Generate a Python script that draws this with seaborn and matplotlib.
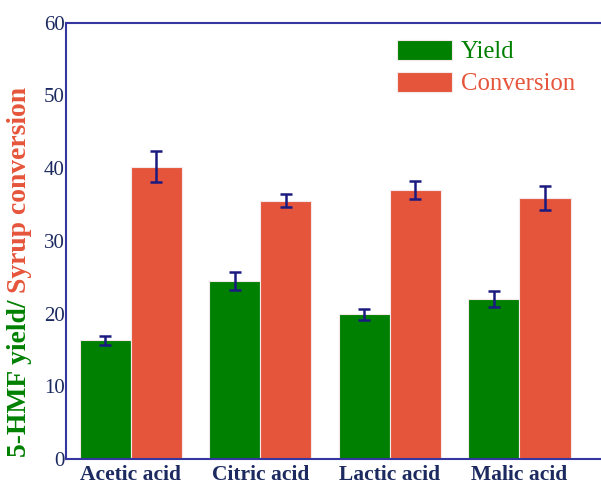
import matplotlib
matplotlib.use("Agg")
import matplotlib.pyplot as plt
import seaborn as sns
import pandas as pd

# Catalyst comparison: 5-HMF yield and syrup conversion (%)
acids = ["Acetic acid", "Citric acid", "Lactic acid", "Malic acid"]
series = ["Yield", "Conversion"]
yield_vals = [16.3, 24.5, 19.9, 22.0]
yield_err = [0.6, 1.2, 0.75, 1.1]
conv_vals = [40.2, 35.5, 37.0, 35.9]
conv_err = [2.1, 0.9, 1.2, 1.6]
y_ticks = [0, 10, 20, 30, 40, 50, 60]

GREEN = "#008000"
RED = "#e5553b"
NAVY = "#1a1a80"
SPINE = "#3636a0"
LABEL = "#1c2a60"

sns.set_theme(style="white")
plt.rcParams["font.family"] = ["Liberation Serif", "DejaVu Serif"]

df = pd.DataFrame({
    "acid": acids * 2,
    "series": [series[0]] * 4 + [series[1]] * 4,
    "value": yield_vals + conv_vals,
})

fig = plt.figure(figsize=(6.01, 4.86), dpi=100)
ax = fig.add_axes([66 / 601, 1 - 459 / 486, 1 - 66 / 601, (459 - 22.7) / 486])

sns.barplot(data=df, x="acid", y="value", hue="series", order=acids,
            hue_order=series, palette=[GREEN, RED], width=0.79,
            edgecolor="#f4e8e8", linewidth=0.8, saturation=1, ax=ax)

# error bars centred on each drawn bar
for cont, errs in zip(ax.containers, [yield_err, conv_err]):
    xs = [p.get_x() + p.get_width() / 2 for p in cont.patches]
    hs = [p.get_height() for p in cont.patches]
    ax.errorbar(xs, hs, yerr=errs, fmt="none", ecolor=NAVY,
                elinewidth=1.8, capsize=4.5, capthick=1.8, zorder=5)

ax.set_ylim(0, 60)
ax.set_xlim(-0.5, 3.63)
ax.set_yticks(y_ticks)
ax.set_xlabel("")
ax.set_ylabel("")

for side in ["left", "bottom", "top"]:
    ax.spines[side].set_color(SPINE)
    ax.spines[side].set_linewidth(1.5)
ax.spines["right"].set_visible(False)

ax.tick_params(axis="y", length=0, pad=1, labelsize=15, labelcolor=LABEL)
ax.tick_params(axis="x", length=0, pad=4, labelsize=15.5, labelcolor=LABEL)
for t in ax.get_xticklabels():
    t.set_fontweight("bold")

# legend without frame, text tinted like its patch
leg = ax.legend(loc="upper left", bbox_to_anchor=(0.601, 0.983), frameon=False,
                fontsize=17.8, handlelength=2.22, handleheight=0.86,
                handletextpad=0.36, labelspacing=0.33, borderaxespad=0)
for txt, col in zip(leg.get_texts(), [GREEN, RED]):
    txt.set_color(col)

# two-colour y-axis title
fig.canvas.draw()
renderer = fig.canvas.get_renderer()
t1 = fig.text(20 / 601, 1 - 457 / 486, "5-HMF yield/ ", rotation=90,
              ha="center", va="bottom", color=GREEN, fontsize=19.9,
              fontweight="bold")
bb = t1.get_window_extent(renderer)
x_fig = 20 / 601
y_fig = bb.y1 / fig.bbox.height
fig.text(x_fig, y_fig, "Syrup conversion", rotation=90, ha="center",
         va="bottom", color=RED, fontsize=19.9, fontweight="bold")

fig.savefig("out.png", dpi=100)
